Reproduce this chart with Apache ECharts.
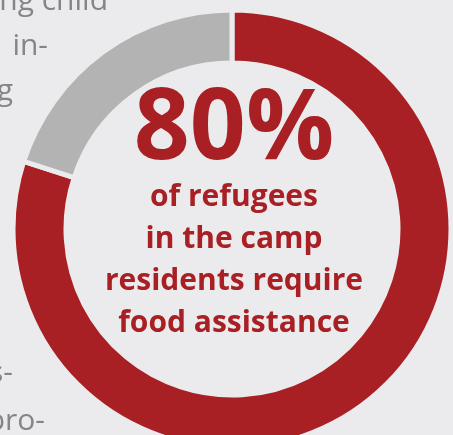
<!DOCTYPE html>
<html>
<head>
<meta charset="UTF-8" />
<title>Food assistance</title>
<script src="https://cdn.jsdelivr.net/npm/echarts@6/dist/echarts.min.js"></script>
<style>
* { margin: 0; padding: 0; }
html, body { width: 100%; height: 100%; background: #ebebed; }
#chart { width: 453px; height: 435px; }
</style>
</head>
<body>
<div id="chart"></div>
<script>
// share of camp residents
const categories = ['Require food assistance', 'Do not']
const values = [80, 20]
const colors = ['#a81f24', '#b3b3b3']

const headline = '80%'
const captionLines = ['of refugees', 'in the camp', 'residents require', 'food assistance']

// body text of the page that shows at the left edge
const sideText = ['ng child', 'in-', 'g', 's-', 'pro-']
const sideTextRight = [108, 48, 13, 13, 45]
const sideTextMid = [1, 46, 91, 373, 421]

const bg = '#ebebed'
let chart = echarts.init(document.getElementById('chart'))

let sideGraphics = sideText.map((t, i) => ({
  type: 'text',
  z: 0,
  style: {
    text: t,
    x: sideTextRight[i],
    y: sideTextMid[i],
    textAlign: 'right',
    textVerticalAlign: 'middle',
    fill: '#858585',
    font: '30px "Open Sans"'
  }
}))

let option = {
  backgroundColor: bg,
  animation: false,
  graphic: sideGraphics.concat([
    {
      type: 'text',
      z: 10,
      style: {
        text: headline,
        x: 234,
        y: 131,
        textAlign: 'center',
        textVerticalAlign: 'middle',
        fill: colors[0],
        font: 'bold 98px "Open Sans"'
      }
    },
    {
      type: 'text',
      z: 10,
      style: {
        text: captionLines.join('\n'),
        x: 234,
        y: 260,
        textAlign: 'center',
        textVerticalAlign: 'middle',
        fill: colors[0],
        font: 'bold 30px "Open Sans"',
        lineHeight: 42
      }
    }
  ]),
  series: [
    {
      type: 'pie',
      center: [232, 229],
      radius: [166, 219],
      startAngle: 90,
      clockwise: true,
      silent: true,
      label: { show: false },
      labelLine: { show: false },
      itemStyle: { borderColor: bg, borderWidth: 5 },
      data: categories.map((c, i) => ({
        name: c,
        value: values[i],
        itemStyle: { color: colors[i] }
      }))
    }
  ]
}
chart.setOption(option)
</script>
</body>
</html>
